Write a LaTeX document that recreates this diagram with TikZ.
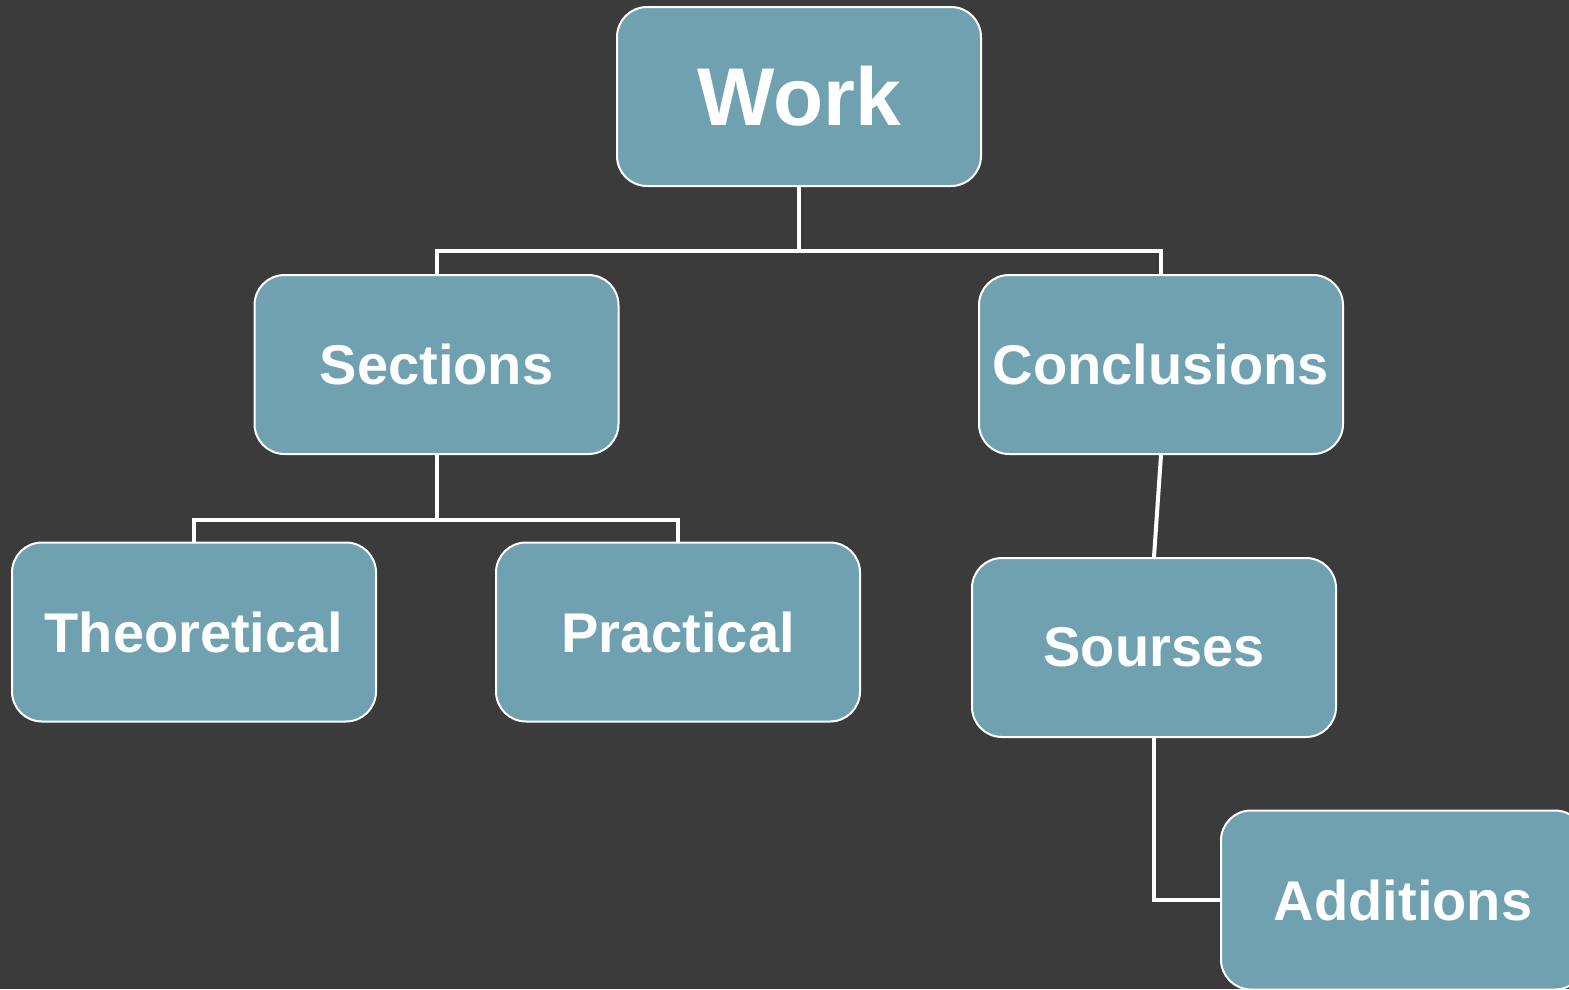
\documentclass[tikz,border=0pt]{standalone}
\usepackage{fontspec}
\setmainfont{Liberation Sans}
\usepackage{tikz}
\usetikzlibrary{positioning,calc}
\definecolor{bgdark}{HTML}{3B3B3B}
\definecolor{boxteal}{HTML}{6FA1B0}
\begin{document}
\begin{tikzpicture}[x=1pt,y=-1pt,
  box/.style={draw=white,line width=2pt,fill=boxteal,rounded corners=30pt,
    minimum width=364pt,minimum height=179pt,inner sep=0pt,text=white,
    font=\bfseries\fontsize{56}{60}\selectfont},
  link/.style={draw=white,line width=4pt}]
\clip (0,0) rectangle (1569,989);
\fill[bgdark] (0,0) rectangle (1569,989);
% boxes
\node[box,font=\bfseries\fontsize{82}{86}\selectfont] (work) at (799,96.5) {Work};
\node[box] (sections) at (436.5,364.5) {Sections};
\node[box] (conclusions) at (1161,364.5) {Conclusions};
\node[box] (theoretical) at (194,632) {Theoretical};
\node[box] (practical) at (678,632) {Practical};
\node[box] (sourses) at (1154,647.5) {Sourses};
\node[box] (additions) at (1403,900) {Additions};
% links
\draw[link] (work.south) -- ++(0,64) -| (sections.north);
\draw[link] (work.south) -- ++(0,64) -| (conclusions.north);
\draw[link] (sections.south) -- ++(0,65) -| (theoretical.north);
\draw[link] (sections.south) -- ++(0,65) -| (practical.north);
\draw[link] (conclusions.south) -- (sourses.north);
\draw[link] (sourses.south) |- (additions.west);
\end{tikzpicture}
\end{document}
